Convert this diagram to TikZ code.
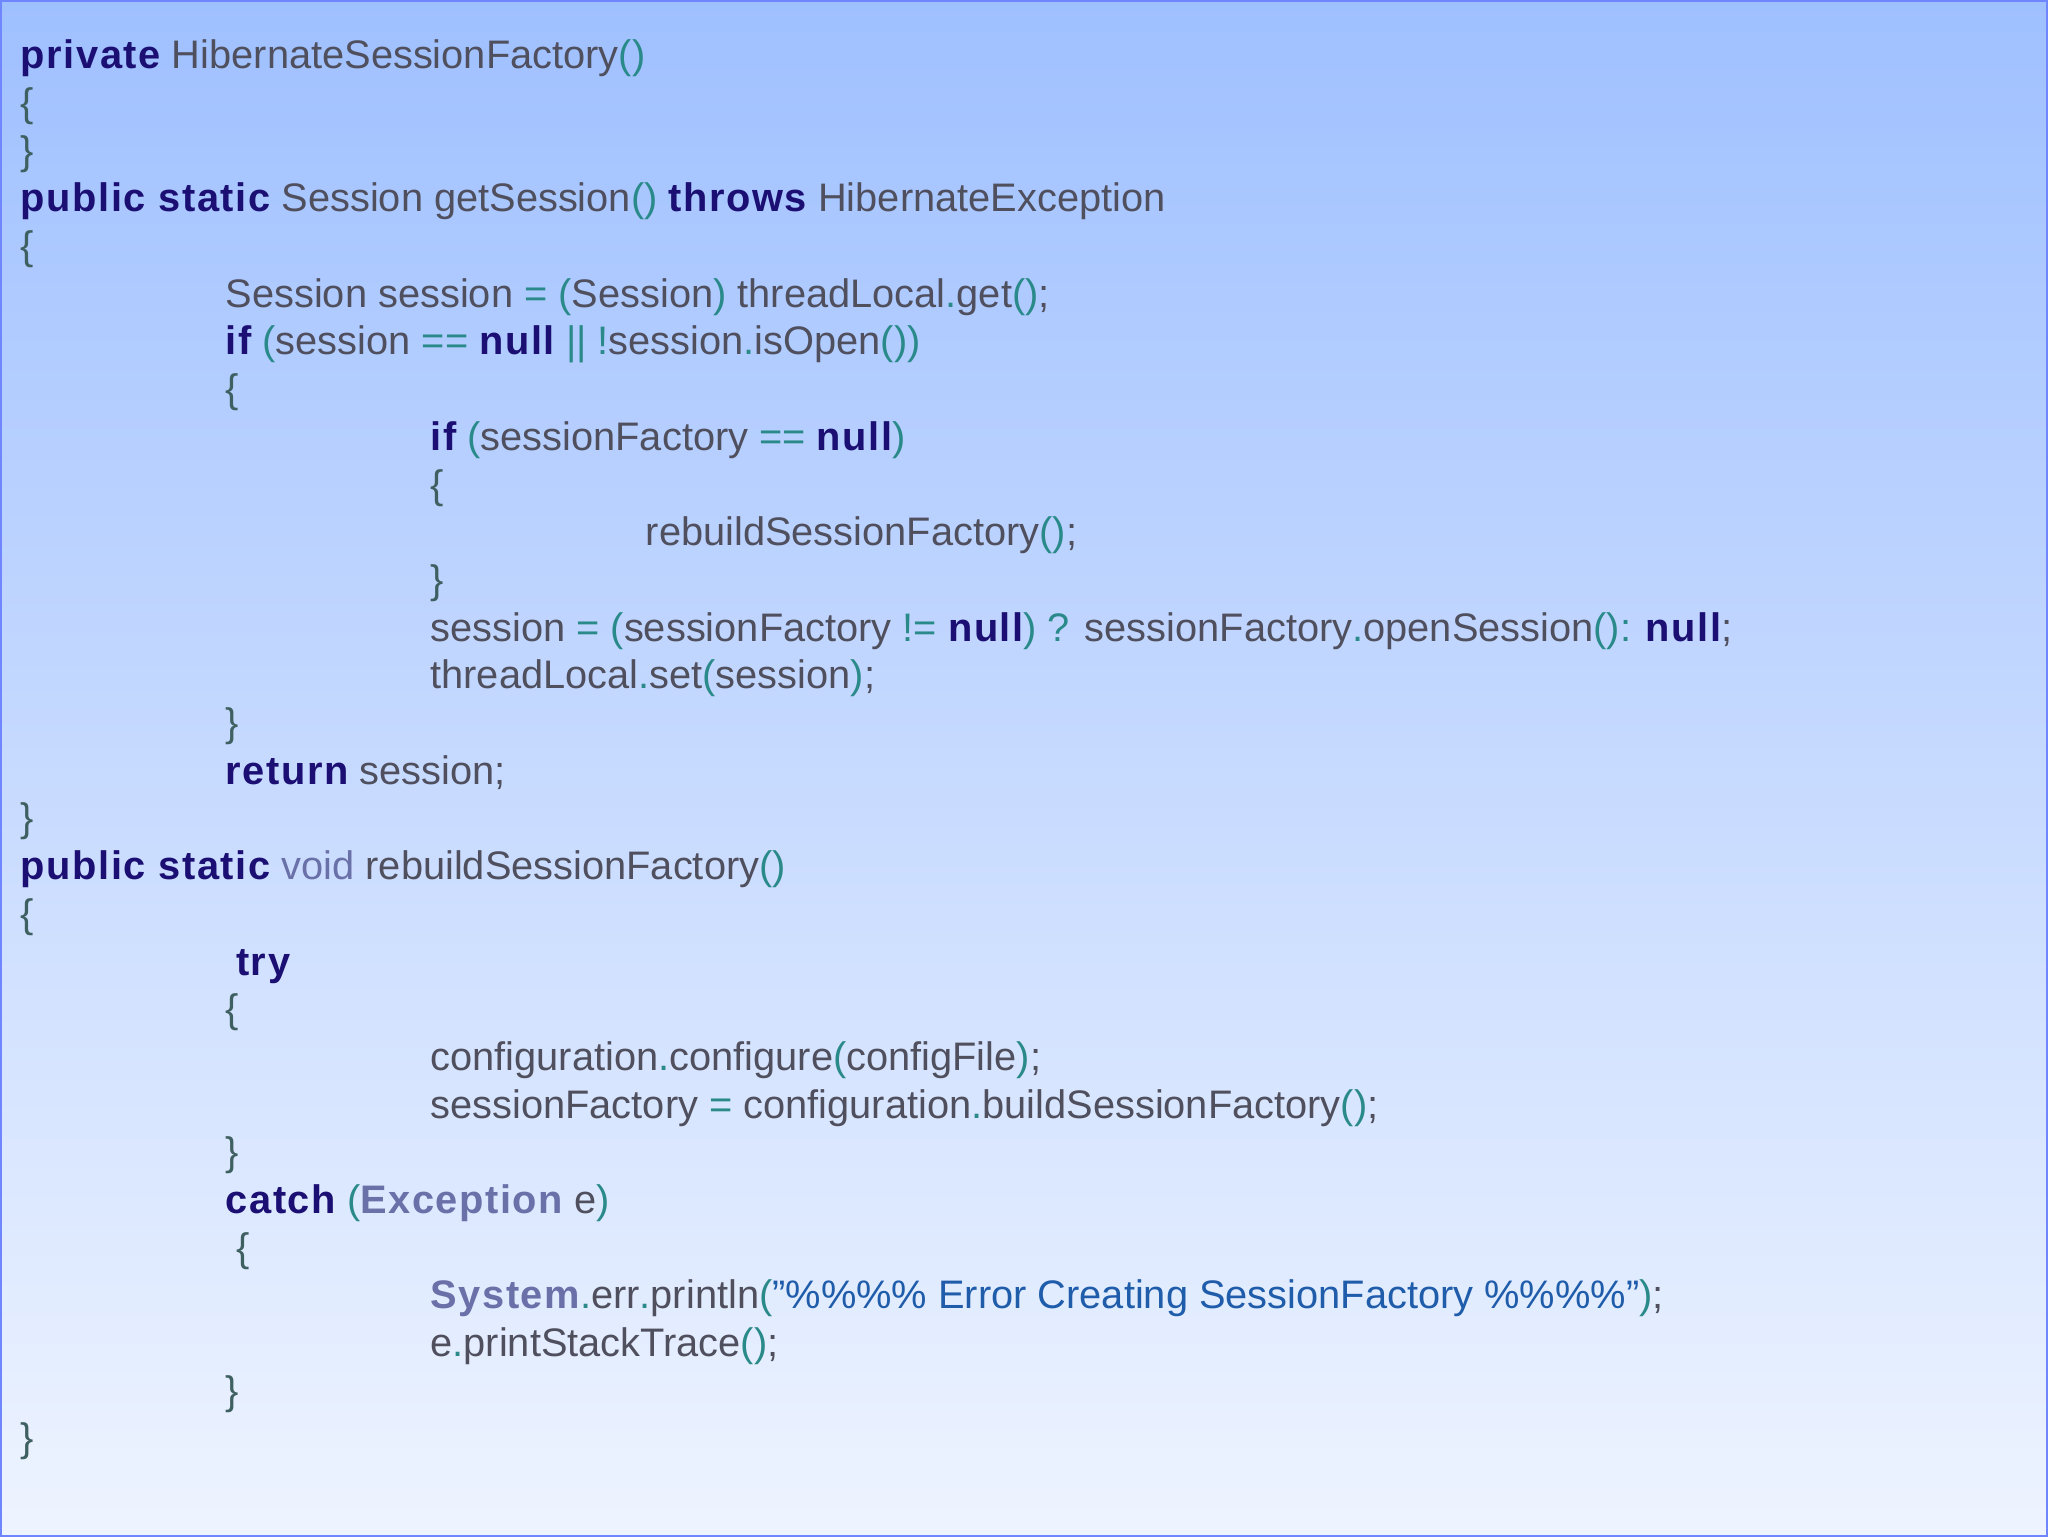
\documentclass[tikz,border=0pt]{standalone}
\usepackage{fontspec}
\setmainfont{Liberation Sans}
\definecolor{kwc}{HTML}{1C0F73}
\definecolor{txc}{HTML}{4F4F5E}
\definecolor{pc}{HTML}{2A8A8A}
\definecolor{bc}{HTML}{3F6060}
\definecolor{vc}{HTML}{6A70A8}
\definecolor{sc}{HTML}{1F5CAA}
\definecolor{bgtop}{HTML}{9FC0FF}
\definecolor{bgbot}{HTML}{EEF4FF}
\newcommand{\kw}[1]{{\color{kwc}\bfseries\addfontfeatures{LetterSpace=4}#1}}
\newcommand{\pu}[1]{{\color{pc}#1}}
\newcommand{\br}[1]{{\color{bc}#1}}
\newcommand{\vd}[1]{{\color{vc}#1}}
\newcommand{\ex}[1]{{\color{vc}\bfseries\addfontfeatures{LetterSpace=4}#1}}
\newcommand{\st}[1]{{\color{sc}#1}}
\newcommand{\cl}[3]{\node[codeline] (l#1) at (#2pt,{-(52+(#1-1)*36.55)*1pt}) {#3};}
\tikzset{codeline/.style={anchor=base west,inner sep=0pt,text=txc,font=\fontsize{30.5}{36}\selectfont}}
\begin{document}
\begin{tikzpicture}
\shade[top color=bgtop,bottom color=bgbot,draw=bgtop!70!blue,line width=1.5pt] (0,0) rectangle (1568pt,-1176pt);
\useasboundingbox (0,0) rectangle (1568pt,-1176pt);
\cl{1}{15}{\kw{private} HibernateSessionFactory\pu{()}}
\cl{2}{15}{\br{\{}}
\cl{3}{15}{\br{\}}}
\cl{4}{15}{\kw{public static} Session getSession\pu{()} \kw{throws} HibernateException}
\cl{5}{15}{\br{\{}}
\cl{6}{172}{Session session \pu{=} \pu{(}Session\pu{)} threadLocal\pu{.}get\pu{()};}
\cl{7}{172}{\kw{if} \pu{(}session \pu{==} \kw{null} \pu{||} \pu{!}session\pu{.}isOpen\pu{())}}
\cl{8}{172}{\br{\{}}
\cl{9}{329}{\kw{if} \pu{(}sessionFactory \pu{==} \kw{null}\pu{)}}
\cl{10}{329}{\br{\{}}
\cl{11}{494}{rebuildSessionFactory\pu{()};}
\cl{12}{329}{\br{\}}}
\cl{13}{329}{session \pu{=} \pu{(}sessionFactory \pu{!=} \kw{null}\pu{)} \pu{?} sessionFactory\pu{.}openSession\pu{():} \kw{null};}
\cl{14}{329}{threadLocal\pu{.}set\pu{(}session\pu{)};}
\cl{15}{172}{\br{\}}}
\cl{16}{172}{\kw{return} session;}
\cl{17}{15}{\br{\}}}
\cl{18}{15}{\kw{public static} \vd{void} rebuildSessionFactory\pu{()}}
\cl{19}{15}{\br{\{}}
\cl{20}{180}{\kw{try}}
\cl{21}{172}{\br{\{}}
\cl{22}{329}{configuration\pu{.}configure\pu{(}configFile\pu{)};}
\cl{23}{329}{sessionFactory \pu{=} configuration\pu{.}buildSessionFactory\pu{()};}
\cl{24}{172}{\br{\}}}
\cl{25}{172}{\kw{catch} \pu{(}\ex{Exception} e\pu{)}}
\cl{26}{180}{\br{\{}}
\cl{27}{329}{\ex{System}\pu{.}err\pu{.}println\pu{(}\st{\char34\%\%\%\% Error Creating SessionFactory \%\%\%\%\char34}\pu{)};}
\cl{28}{329}{e\pu{.}printStackTrace\pu{()};}
\cl{29}{172}{\br{\}}}
\cl{30}{15}{\br{\}}}
\end{tikzpicture}
\end{document}
